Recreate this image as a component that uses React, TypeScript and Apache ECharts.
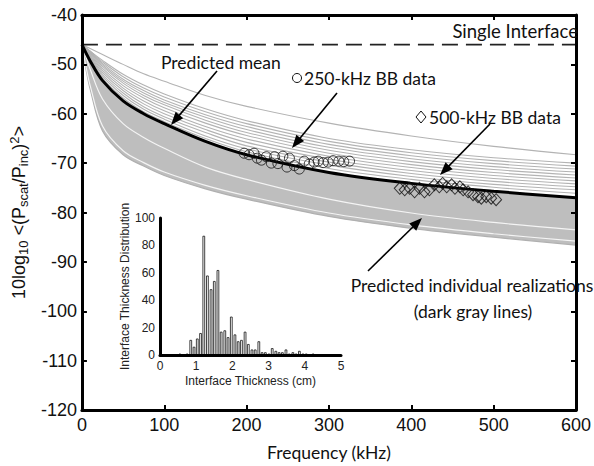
import React, { useEffect, useRef } from "react";
import * as echarts from "echarts";

// ---------- data ----------
const F_UPPER = [0, 10, 25, 50, 75, 100, 150, 200, 300, 400, 500, 600];
const F_LOWER = [0, 5, 10, 25, 50, 75, 100, 150, 200, 300, 400, 500, 600];

const MEAN = [-46, -49.3, -53.3, -57.4, -60.0, -62.0, -65.6, -68.3, -71.9, -74.1, -75.7, -77.0];
const TOP_LINE = [-46, -46.8, -48.0, -50.0, -51.9, -53.4, -56.3, -58.5, -61.9, -64.5, -66.6, -68.3];
const G1 = [-46, -47.3, -49.2, -52.0, -54.2, -56.0, -59.0, -61.4, -65.0, -67.3, -68.9, -70.0];
const G2 = [-46, -47.4, -49.5, -52.5, -54.8, -56.6, -59.6, -62.0, -65.6, -67.9, -69.5, -70.6];
const G3 = [-46, -47.5, -49.8, -53.0, -55.3, -57.2, -60.2, -62.6, -66.2, -68.5, -70.1, -71.2];
const G4 = [-46, -47.6, -50.1, -53.4, -55.8, -57.7, -60.7, -63.2, -66.8, -69.1, -70.7, -71.8];
const G5 = [-46, -47.7, -50.4, -53.8, -56.3, -58.2, -61.3, -63.8, -67.4, -69.7, -71.3, -72.4];
const G6 = [-46, -47.9, -50.8, -54.3, -56.8, -58.8, -61.9, -64.4, -68.0, -70.3, -71.9, -73.0];
const G7 = [-46, -48.1, -51.2, -54.8, -57.4, -59.4, -62.6, -65.1, -68.6, -70.9, -72.5, -73.6];
const G8 = [-46, -48.3, -51.6, -55.3, -58.0, -60.0, -63.2, -65.8, -69.2, -71.5, -73.1, -74.2];
const G9 = [-46, -48.5, -52.0, -55.8, -58.6, -60.6, -63.8, -66.5, -69.8, -72.1, -73.7, -74.8];
const G10 = [-46, -48.7, -52.4, -56.3, -59.1, -61.1, -64.5, -67.1, -70.4, -72.7, -74.3, -75.4];
const G11 = [-46, -48.9, -52.8, -56.8, -59.6, -61.6, -65.0, -67.7, -71.1, -73.3, -74.9, -76.1];
const UPPER_LINES = [TOP_LINE, G1, G2, G3, G4, G5, G6, G7, G8, G9, G10, G11];

const BOTTOM_LINE = [-46, -51.0, -55.0, -63.5, -68.3, -70.6, -72.5, -75.2, -77.3, -80.8, -83.2, -85.0, -86.6];
const WHITE_1 = [-46, -48.5, -51.0, -57.0, -62.0, -64.8, -67.0, -70.8, -73.3, -77.3, -80.1, -82.0, -83.5];
const WHITE_2 = [-46, -50.5, -54.3, -62.5, -67.5, -69.9, -71.8, -74.5, -76.6, -80.1, -82.5, -84.3, -85.8];

const SINGLE_INTERFACE = -46;

const BB250_F = [197, 203, 209, 213, 218, 224, 230, 234, 238, 244, 249, 252, 258, 264, 270, 276, 282, 287, 293, 299, 305, 312, 318, 325];
const BB250_DB = [-68.0, -68.3, -68.0, -69.0, -69.4, -68.7, -70.0, -68.7, -70.1, -68.6, -70.8, -69.0, -70.5, -71.2, -69.6, -70.2, -69.8, -69.6, -69.9, -69.8, -69.5, -69.6, -69.7, -69.6];

const BB500_F = [386, 392, 398, 404, 410, 416, 422, 428, 434, 438, 443, 449, 453, 459, 463, 469, 475, 481, 485, 491, 497, 503];
const BB500_DB = [-75.1, -75.4, -75.1, -75.8, -75.1, -75.8, -75.4, -74.4, -74.8, -74.1, -74.8, -74.4, -75.1, -74.8, -75.4, -75.8, -76.4, -76.8, -77.1, -76.8, -77.1, -77.4];

const HIST_CM = [0.55, 0.75, 0.85, 0.94, 1.03, 1.12, 1.21, 1.31, 1.41, 1.50, 1.60, 1.69, 1.79, 1.88, 1.97, 2.07, 2.16, 2.25, 2.35, 2.44, 2.54, 2.63, 2.73, 2.82, 2.91, 3.01, 3.10, 3.20, 3.29, 3.38, 3.48, 3.57, 3.67, 3.76, 3.85, 3.95, 4.04, 4.23];
const HIST_COUNT = [1, 1, 11, 6, 12, 16, 87, 58, 48, 54, 62, 17, 18, 13, 28, 15, 10, 11, 17, 8, 4, 4, 10, 2, 2, 1, 5, 3, 2, 2, 4, 1, 2, 1, 3, 1, 1, 1];

const X_TICKS = [0, 100, 200, 300, 400, 500, 600];
const Y_TICKS = [-120, -110, -100, -90, -80, -70, -60, -50, -40];

// ---------- helpers ----------
const pairs = (xs: number[], ys: number[]) => xs.map((x, i) => [x, ys[i]]);

const SANS = "Liberation Sans";
const HUMAN = "Lato";
const SMOOTH = 0.35;

function arrow(x1: number, y1: number, x2: number, y2: number) {
  const dx = x2 - x1, dy = y2 - y1;
  const len = Math.sqrt(dx * dx + dy * dy);
  const ux = dx / len, uy = dy / len;
  const hl = 13, hw = 5;
  const bx = x2 - ux * hl, by = y2 - uy * hl;
  return [
    { type: "line", z: 100, shape: { x1, y1, x2: bx + ux * 2, y2: by + uy * 2 }, style: { stroke: "#000", lineWidth: 1.6 } },
    {
      type: "polygon", z: 100,
      shape: { points: [[x2, y2], [bx - uy * hw, by + ux * hw], [bx + uy * hw, by - ux * hw]] },
      style: { fill: "#000" },
    },
  ];
}

function label(text: string, x: number, y: number, align: string = "left", size = 17.5) {
  return {
    type: "text", z: 100, x, y,
    style: { text, fill: "#111", font: `${size}px ${HUMAN}`, textAlign: align, textVerticalAlign: "middle" },
  };
}

export default function App() {
  const ref = useRef<HTMLDivElement>(null);
  useEffect(() => {
    if (!ref.current) return;
    const chart = echarts.init(ref.current, undefined, { renderer: "svg" });

    const mainAxisLine = { show: true, onZero: false, lineStyle: { color: "#000", width: 3 } };
    const mainTick = { show: true, inside: true, length: 5, lineStyle: { color: "#000", width: 2 } };

    const series: any[] = [];
    // gray band (mean down to bottom)
    series.push({
      type: "line", xAxisIndex: 0, yAxisIndex: 0, data: pairs(F_UPPER, MEAN), smooth: SMOOTH,
      symbol: "none", lineStyle: { width: 0 }, areaStyle: { color: "#bebebe", origin: "start", opacity: 1 }, silent: true, z: 1,
    });
    series.push({
      type: "line", xAxisIndex: 0, yAxisIndex: 0, data: pairs(F_LOWER, BOTTOM_LINE), smooth: SMOOTH,
      symbol: "none", lineStyle: { width: 1.2, color: "#b0b0b0" }, areaStyle: { color: "#ffffff", origin: "start", opacity: 1 }, silent: true, z: 1,
    });
    [WHITE_1, WHITE_2].forEach((w) =>
      series.push({
        type: "line", xAxisIndex: 0, yAxisIndex: 0, data: pairs(F_LOWER, w), smooth: SMOOTH,
        symbol: "none", lineStyle: { width: 1.2, color: "#f4f4f4" }, silent: true, z: 2,
      })
    );
    UPPER_LINES.forEach((g) =>
      series.push({
        type: "line", xAxisIndex: 0, yAxisIndex: 0, data: pairs(F_UPPER, g), smooth: SMOOTH,
        symbol: "none", lineStyle: { width: 1.1, color: "#b3b3b3" }, silent: true, z: 2,
      })
    );
    series.push({
      type: "line", xAxisIndex: 0, yAxisIndex: 0, data: pairs(F_UPPER, MEAN), smooth: SMOOTH,
      symbol: "none", lineStyle: { width: 3, color: "#000" }, silent: true, z: 3,
    });
    series.push({
      type: "line", xAxisIndex: 0, yAxisIndex: 0, data: [[0, SINGLE_INTERFACE], [600, SINGLE_INTERFACE]],
      symbol: "none", lineStyle: { width: 1.8, color: "#222", type: [16, 8] }, silent: true, z: 3,
    });
    series.push({
      type: "scatter", xAxisIndex: 0, yAxisIndex: 0, data: pairs(BB250_F, BB250_DB), symbol: "circle", symbolSize: 10,
      itemStyle: { color: "rgba(0,0,0,0)", borderColor: "#111", borderWidth: 1 }, silent: true, z: 4,
    });
    series.push({
      type: "scatter", xAxisIndex: 0, yAxisIndex: 0, data: pairs(BB500_F, BB500_DB), symbol: "diamond", symbolSize: [11, 12],
      itemStyle: { color: "rgba(0,0,0,0)", borderColor: "#111", borderWidth: 1 }, silent: true, z: 4,
    });
    // inset histogram
    series.push({
      type: "bar", xAxisIndex: 2, yAxisIndex: 2, data: pairs(HIST_CM, HIST_COUNT), barWidth: 2.6,
      itemStyle: { color: "#ffffff", borderColor: "#111", borderWidth: 0.8 }, silent: true, z: 20,
    });

    const graphic: any[] = [
      label("Single Interface", 578, 31, "right", 18.5),
      label("Predicted mean", 161, 62),
      { type: "circle", z: 100, shape: { cx: 297, cy: 78, r: 4.5 }, style: { fill: "none", stroke: "#111", lineWidth: 1 } },
      label("250-kHz BB data", 304, 78),
      { type: "polygon", z: 100, shape: { points: [[421, 111], [426, 117], [421, 123], [416, 117]] }, style: { fill: "none", stroke: "#111", lineWidth: 1 } },
      label("500-kHz BB data", 429, 117),
      label("Predicted individual realizations", 472, 285, "center"),
      label("(dark gray lines)", 473, 311, "center"),
      ...arrow(217, 71, 171, 125),
      ...arrow(337, 93, 292, 148),
      ...arrow(490, 124, 440, 175),
      ...arrow(368, 271, 422, 218),
    ];

    const option: any = {
      animation: false,
      backgroundColor: "#fff",
      grid: [
        { left: 77, right: 11, top: 15, bottom: 56, containLabel: false },
        { left: 160, top: 218, width: 181, height: 137, containLabel: false, z: 20 },
      ],
      xAxis: [
        {
          type: "value", gridIndex: 0, position: "bottom", min: X_TICKS[0], max: X_TICKS[X_TICKS.length - 1], interval: 100, z: 10,
          axisLine: mainAxisLine, axisTick: mainTick, splitLine: { show: false },
          axisLabel: { color: "#111", fontFamily: SANS, fontSize: 18, margin: 6 },
          name: "Frequency (kHz)", nameLocation: "middle", nameGap: 33,
          nameTextStyle: { color: "#111", fontFamily: HUMAN, fontSize: 17.5 },
        },
        {
          type: "value", gridIndex: 0, position: "top", min: X_TICKS[0], max: X_TICKS[X_TICKS.length - 1], interval: 100, z: 10,
          axisLine: mainAxisLine, axisTick: mainTick, splitLine: { show: false }, axisLabel: { show: false },
        },
        {
          type: "value", gridIndex: 1, min: 0, max: 5, interval: 1, z: 25,
          axisLine: { show: true, onZero: false, lineStyle: { color: "#000", width: 3 } },
          axisTick: { show: false }, splitLine: { show: false },
          axisLabel: { color: "#222", fontFamily: SANS, fontSize: 12, margin: 5 },
          name: "Interface Thickness (cm)", nameLocation: "middle", nameGap: 20,
          nameTextStyle: { color: "#222", fontFamily: SANS, fontSize: 12 },
        },
      ],
      yAxis: [
        {
          type: "value", gridIndex: 0, position: "left", min: Y_TICKS[0], max: Y_TICKS[Y_TICKS.length - 1], interval: 10, z: 10,
          axisLine: mainAxisLine, axisTick: mainTick, splitLine: { show: false },
          axisLabel: { color: "#111", fontFamily: SANS, fontSize: 18, margin: 5 },
          name: "10log{sub|10} <(P{sub|scat}/P{sub|inc}){sup|2}>", nameLocation: "middle", nameGap: 48, nameRotate: 90,
          nameTextStyle: {
            color: "#111", fontFamily: SANS, fontSize: 18, lineHeight: 22,
            rich: {
              sub: { fontFamily: SANS, fontSize: 13, lineHeight: 13, verticalAlign: "bottom", color: "#111" },
              sup: { fontFamily: SANS, fontSize: 13, lineHeight: 13, verticalAlign: "top", color: "#111" },
            },
          },
        },
        {
          type: "value", gridIndex: 0, position: "right", min: Y_TICKS[0], max: Y_TICKS[Y_TICKS.length - 1], interval: 10, z: 10,
          axisLine: mainAxisLine, axisTick: mainTick, splitLine: { show: false }, axisLabel: { show: false },
        },
        {
          type: "value", gridIndex: 1, min: 0, max: 100, interval: 20, z: 25,
          axisLine: { show: true, onZero: false, lineStyle: { color: "#000", width: 3 } },
          axisTick: { show: false }, splitLine: { show: false },
          axisLabel: { color: "#222", fontFamily: SANS, fontSize: 12, margin: 5 },
          name: "Interface Thickness Distribution", nameLocation: "middle", nameGap: 26, nameRotate: 90,
          nameTextStyle: { color: "#222", fontFamily: SANS, fontSize: 12 },
        },
      ],
      series,
      graphic,
    };
    chart.setOption(option);
    return () => chart.dispose();
  }, []);
  return <div ref={ref} style={{ width: 594, height: 466, position: "absolute", left: 0, top: 0 }} />;
}
